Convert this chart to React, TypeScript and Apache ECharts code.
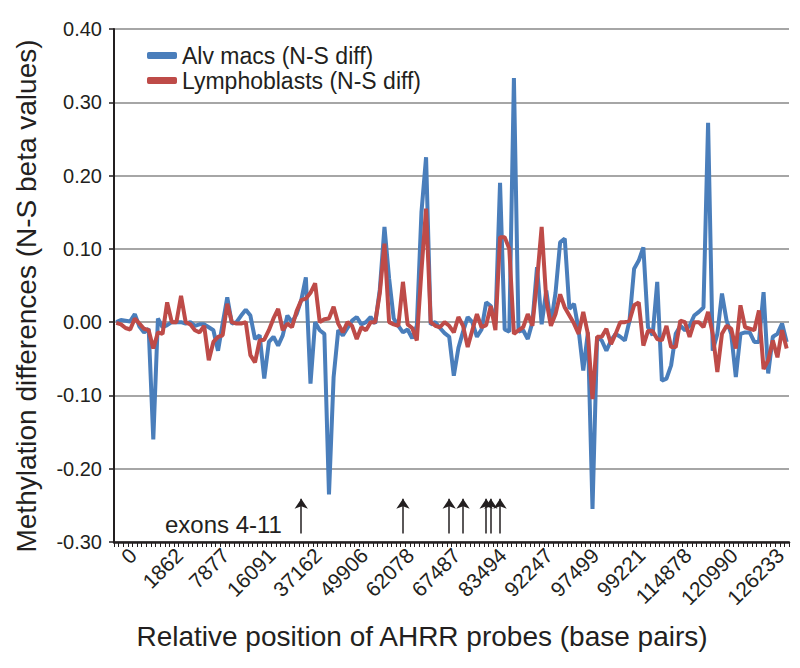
import React, { useEffect, useRef } from 'react';
import * as echarts from 'echarts';

// x-axis tick labels (relative position of AHRR probes, bp), one every 10 probes
const tickLabels = ['0', '1862', '7877', '16091', '37162', '49906', '62078', '67487', '83494', '92247', '97499', '99221', '114878', '120990', '126233'];
const labelEvery = 10;
const probeCount = 146;
const categories: string[] = Array.from({ length: probeCount }, (_, i) =>
  i % labelEvery === 0 ? tickLabels[i / labelEvery] : ''
);

// Alv macs (N-S diff)
const alvMacs = [
  0.0, 0.003, 0.002, 0.001, 0.011, -0.006, -0.014, -0.009, -0.16, 0.005,
  -0.007, -0.004, 0.0, 0.0, 0.0, -0.002, 0.0, -0.005, -0.003, -0.003,
  -0.007, -0.011, -0.039, -0.002, 0.034, -0.002, 0.0, 0.009, 0.017, 0.009,
  -0.023, -0.018, -0.077, -0.027, -0.02, -0.032, -0.018, 0.009, 0.0, 0.011,
  0.03, 0.061, -0.084, 0.0, -0.011, -0.016, -0.235, -0.075, -0.011, -0.018,
  -0.008, 0.002, 0.007, -0.003, 0.0, 0.007, -0.002, 0.045, 0.13, 0.06,
  0.005, -0.005, -0.014, -0.01, -0.022, -0.005, 0.15, 0.225, -0.003, 0.0,
  -0.008, -0.015, -0.02, -0.073, -0.035, -0.013, 0.007, 0.0, -0.02, -0.01,
  0.027, 0.022, -0.002, 0.19, -0.01, -0.013, 0.333, -0.013, -0.011, -0.023,
  0.0, 0.075, -0.003, 0.043, -0.002, 0.04, 0.109, 0.114, 0.018, 0.025,
  -0.011, -0.066, -0.014, -0.255, -0.02, -0.025, -0.039, -0.025, -0.016, -0.02,
  -0.025, 0.002, 0.073, 0.084, 0.102, -0.007, -0.018, 0.055, -0.08, -0.077,
  -0.059, -0.016, -0.005, -0.011, -0.005, 0.009, 0.014, 0.02, 0.272, -0.039,
  -0.016, 0.039, 0.002, -0.016, -0.075, -0.016, -0.014, -0.014, -0.027, -0.027,
  0.041, -0.07, -0.02, -0.016, -0.002, -0.027,
];

// Lymphoblasts (N-S diff)
const lymphoblasts = [
  -0.001, -0.003, -0.008, -0.01, 0.005, -0.002, -0.009, -0.011, -0.036, -0.014,
  -0.016, 0.027, 0.0, 0.0, 0.036, 0.0, -0.003, -0.011, -0.014, -0.005,
  -0.052, -0.027, -0.02, -0.018, 0.025, 0.0, -0.002, -0.002, 0.0, -0.045,
  -0.055, -0.025, -0.024, -0.011, 0.005, 0.018, -0.011, -0.002, -0.007, 0.015,
  0.03, 0.032, 0.04, 0.053, 0.0, 0.004, 0.005, 0.021, -0.002, -0.014,
  0.0, -0.005, -0.023, -0.007, -0.011, 0.0, 0.0, 0.04, 0.107, 0.0,
  -0.003, -0.005, 0.055, -0.003, -0.008, -0.025, 0.07, 0.155, 0.0, -0.005,
  -0.007, 0.0, -0.005, -0.014, 0.007, -0.005, -0.034, -0.011, 0.011, -0.007,
  -0.004, 0.022, -0.011, 0.116, 0.116, 0.1, -0.016, -0.011, -0.007, 0.011,
  -0.005, 0.057, 0.13, 0.03, -0.005, 0.011, 0.038, 0.02, 0.009, -0.002,
  -0.016, 0.014, -0.016, -0.105, -0.02, -0.02, -0.009, -0.03, -0.016, 0.0,
  0.0, 0.002, 0.023, 0.027, -0.032, -0.012, -0.012, -0.023, -0.025, -0.005,
  -0.034, -0.034, 0.002, 0.0, -0.02, 0.0, 0.0, -0.007, 0.014, -0.016,
  -0.068, -0.016, -0.005, -0.009, -0.036, 0.023, -0.007, -0.009, -0.011, 0.016,
  -0.064, -0.052, -0.025, -0.048, -0.011, -0.036,
];

// exon arrows (probe index where each arrow stands)
const exonProbeIndex = [40, 62, 72, 75, 80, 81, 83];
const arrowBase = -0.2885;
const arrowTip = -0.241;

const seriesNames = ['Alv macs (N-S diff)', 'Lymphoblasts (N-S diff)'];
const FONT = '"Liberation Sans", Arial, Helvetica, sans-serif';
const TEXT = '#231f20';

export default function App() {
  const ref = useRef<HTMLDivElement>(null);
  useEffect(() => {
    if (!ref.current) return;
    const chart = echarts.init(ref.current, undefined, { renderer: 'svg' });
    chart.setOption({
      animation: false,
      textStyle: { fontFamily: FONT, color: TEXT },
      grid: { left: 114, right: 11, top: 29, bottom: 126, containLabel: false },
      legend: {
        data: seriesNames,
        orient: 'vertical',
        left: 142,
        top: 39,
        itemWidth: 30,
        itemHeight: 7,
        itemGap: 2,
        icon: 'roundRect',
        textStyle: { fontSize: 23, color: TEXT, fontFamily: FONT },
      },
      xAxis: {
        type: 'category',
        data: categories,
        boundaryGap: true,
        axisLine: { show: true, onZero: false, lineStyle: { color: TEXT, width: 2.5 } },
        axisTick: { show: true, interval: 0, length: 5, lineStyle: { color: TEXT, width: 1 } },
        axisLabel: {
          interval: labelEvery - 1,
          rotate: 45,
          fontSize: 21,
          color: TEXT,
          fontFamily: FONT,
          margin: -7,
          verticalAlign: 'top',
          padding: [13, 0, 0, 0],
        },
        splitLine: { show: false },
      },
      yAxis: {
        type: 'value',
        min: -0.3,
        max: 0.4,
        interval: 0.1,
        axisLine: { show: true, lineStyle: { color: TEXT, width: 2 } },
        axisTick: { show: true, length: 5, lineStyle: { color: TEXT, width: 1.5 } },
        axisLabel: {
          fontSize: 20,
          color: TEXT,
          fontFamily: FONT,
          margin: 12,
          formatter: (v: number) => v.toFixed(2),
        },
        splitLine: { show: true, lineStyle: { color: '#a6a6a6', width: 2 } },
      },
      series: [
        {
          name: seriesNames[0],
          type: 'line',
          data: alvMacs,
          symbol: 'none',
          lineStyle: { width: 4, color: '#4A7EBB' },
          itemStyle: { color: '#4A7EBB' },
          z: 2,
          markLine: {
            silent: true,
            symbol: ['none', 'arrow'],
            symbolSize: 10,
            lineStyle: { color: TEXT, width: 1.5, type: 'solid' },
            itemStyle: { color: TEXT },
            label: { show: false },
            emphasis: { disabled: true },
            data: exonProbeIndex.map((i) => [
              { coord: [i, arrowBase] },
              { coord: [i, arrowTip] },
            ]),
          },
        },
        {
          name: seriesNames[1],
          type: 'line',
          data: lymphoblasts,
          symbol: 'none',
          lineStyle: { width: 4, color: '#BE4B48' },
          itemStyle: { color: '#BE4B48' },
          z: 3,
        },
      ],
      graphic: [
        {
          type: 'text',
          x: 165,
          y: 524,
          style: { text: 'exons 4-11', fontSize: 24, fontFamily: FONT, fill: TEXT, align: 'left', verticalAlign: 'middle' },
        },
        {
          type: 'text',
          x: 26,
          y: 296,
          rotation: Math.PI / 2,
          style: { text: 'Methylation differences (N-S beta values)', fontSize: 28, fontFamily: FONT, fill: TEXT, align: 'center', verticalAlign: 'middle' },
        },
        {
          type: 'text',
          x: 422,
          y: 636,
          style: { text: 'Relative position of AHRR probes (base pairs)', fontSize: 28, fontFamily: FONT, fill: TEXT, align: 'center', verticalAlign: 'middle' },
        },
      ],
    });
    return () => chart.dispose();
  }, []);
  return <div ref={ref} style={{ position: 'absolute', left: 0, top: 0, width: 800, height: 668 }} />;
}
